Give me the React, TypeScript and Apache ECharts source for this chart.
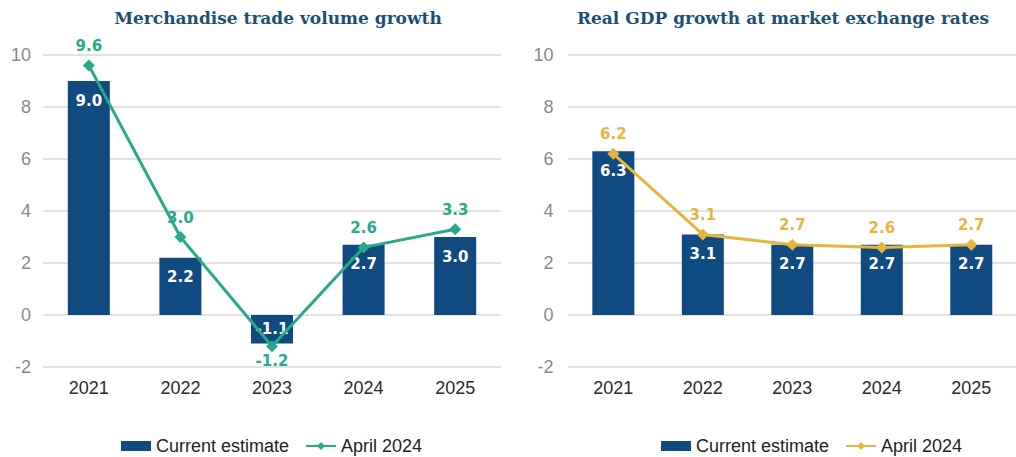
import React, { useEffect, useRef } from "react";
import * as echarts from "echarts";

const years = ["2021", "2022", "2023", "2024", "2025"];
const tradeCurrent = [9.0, 2.2, -1.1, 2.7, 3.0];
const tradeApril = [9.6, 3.0, -1.2, 2.6, 3.3];
const gdpCurrent = [6.3, 3.1, 2.7, 2.7, 2.7];
const gdpApril = [6.2, 3.1, 2.7, 2.6, 2.7];
const yMin = -2;
const yMax = 10;
const yStep = 2;
const titles = ["Merchandise trade volume growth", "Real GDP growth at market exchange rates"];
const seriesNames = ["Current estimate", "April 2024"];

const BAR = "#0f4a80";
const GREEN = "#2aa98a";
const GOLD = "#e6b53f";
const TITLE = "#1d4f76";
const SANS = "'Liberation Sans', Arial, sans-serif";
const LABELFONT = "'DejaVu Sans', sans-serif";

type Cfg = {
  title: string;
  titleX: number;
  bars: number[];
  line: number[];
  lineColor: string;
  gridLeft: number;
  gridRight: number;
  yMargin: number;
  legendLeft: number;
};

function buildOption(c: Cfg): echarts.EChartsOption {
  return {
    animation: false,
    graphic: [
      {
        type: "text",
        x: c.titleX,
        y: 18,
        style: {
          text: c.title,
          fill: TITLE,
          font: "bold 17px 'DejaVu Serif', serif",
          align: "center",
          verticalAlign: "middle",
          textAlign: "center",
          textVerticalAlign: "middle",
        } as any,
      },
    ],
    legend: {
      left: c.legendLeft,
      top: 432,
      itemWidth: 30,
      itemHeight: 10,
      itemGap: 16,
      textStyle: { fontSize: 18, color: "#222", fontFamily: SANS },
      data: [
        { name: seriesNames[0], icon: "rect" },
        { name: seriesNames[1] },
      ],
    },
    grid: { left: c.gridLeft, right: c.gridRight, top: 55, bottom: 90 },
    xAxis: {
      type: "category",
      data: years,
      axisLine: { show: false },
      axisTick: { show: false },
      axisLabel: { fontSize: 18, color: "#2a2a2a", fontFamily: SANS, margin: 12 },
    },
    yAxis: {
      type: "value",
      min: yMin,
      max: yMax,
      interval: yStep,
      axisLine: { show: false },
      axisTick: { show: false },
      axisLabel: { fontSize: 18, color: "#8a8a8a", fontFamily: SANS, margin: c.yMargin },
      splitLine: { lineStyle: { color: "#d9d9d9", width: 1.5 } },
    },
    series: [
      {
        name: seriesNames[0],
        type: "bar",
        barWidth: 42,
        itemStyle: { color: BAR },
        data: c.bars.map((v) => ({
          value: v,
          label: {
            show: true,
            position: v < 0 ? "inside" : "insideTop",
            distance: 12,
            formatter: (p: any) => Number(p.value).toFixed(1),
            color: "#ffffff",
            fontSize: 15,
            fontWeight: "bold",
            fontFamily: LABELFONT,
          },
        })),
      },
      {
        name: seriesNames[1],
        type: "line",
        symbol: "diamond",
        symbolSize: 12,
        lineStyle: { color: c.lineColor, width: 3 },
        itemStyle: { color: c.lineColor },
        data: c.line.map((v) => ({
          value: v,
          label: {
            show: true,
            position: v < 0 ? "bottom" : "top",
            distance: v < 0 ? 1 : 6,
            formatter: (p: any) => Number(p.value).toFixed(1),
            color: c.lineColor,
            fontSize: 15,
            fontWeight: "bold",
            fontFamily: LABELFONT,
          },
        })),
        z: 3,
      },
    ],
  };
}

function Chart({ cfg, style }: { cfg: Cfg; style: React.CSSProperties }) {
  const ref = useRef<HTMLDivElement>(null);
  useEffect(() => {
    if (!ref.current) return;
    const chart = echarts.init(ref.current, undefined, { renderer: "svg" });
    chart.setOption(buildOption(cfg));
    return () => chart.dispose();
  }, []);
  return <div ref={ref} style={{ position: "absolute", top: 0, height: 457, overflow: "hidden", ...style }} />;
}

export default function App() {
  const left: Cfg = {
    title: titles[0],
    titleX: 278,
    bars: tradeCurrent,
    line: tradeApril,
    lineColor: GREEN,
    gridLeft: 43,
    gridRight: 520 - 501,
    yMargin: 12,
    legendLeft: 116,
  };
  const right: Cfg = {
    title: titles[1],
    titleX: 783 - 520,
    bars: gdpCurrent,
    line: gdpApril,
    lineColor: GOLD,
    gridLeft: 48.6,
    gridRight: -11,
    yMargin: 15,
    legendLeft: 136,
  };
  return (
    <div style={{ position: "fixed", left: 0, top: 0, width: 1016, height: 457, background: "#fff", overflow: "hidden" }}>
      <Chart cfg={left} style={{ left: 0, width: 520 }} />
      <Chart cfg={right} style={{ left: 520, width: 496 }} />
    </div>
  );
}
